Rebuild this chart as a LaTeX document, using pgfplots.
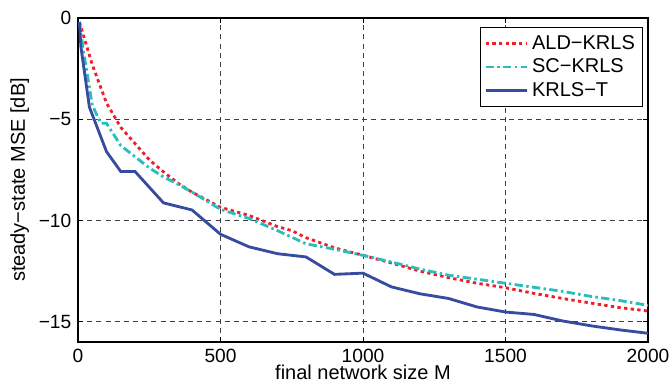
\documentclass[border=0pt]{standalone}
\usepackage{fontspec}
\setmainfont{Liberation Sans}
\usepackage{pgfplots}
\pgfplotsset{compat=1.18}
\definecolor{cRed}{RGB}{240,30,40}
\definecolor{cCyan}{RGB}{40,190,190}
\definecolor{cBlue}{RGB}{55,75,160}
\begin{document}
\fontsize{11.5}{13.5}\selectfont
\begin{tikzpicture}
\begin{axis}[
  scale only axis,
  width=342pt, height=194.4pt,
  xmin=0, xmax=2000, ymin=-16, ymax=0,
  xtick={0,500,1000,1500,2000},
  xticklabels={0,500,1000,1500,2000},
  ytick={-15,-10,-5,0},
  yticklabels={−15,−10,−5,0},
  tick align=inside,
  major tick length=3pt,
  tick style={black, line width=0.5pt},
  axis line style={black, line width=0.9pt},
  grid=major,
  major grid style={black!75, dashed, line width=0.4pt, dash pattern=on 3pt off 2.5pt},
  ticklabel style={font=\fontsize{11.5}{13.5}\selectfont},
  xticklabel style={yshift=0pt},
  label style={font=\fontsize{12}{14}\selectfont},
  xlabel={final network size M},
  ylabel={steady−state MSE [dB]},
  xlabel style={yshift=6pt},
  ylabel style={yshift=-2pt},
  legend style={at={(0.991,0.972)}, anchor=north east, draw=black, line width=0.6pt,
    font=\fontsize{12}{14}\selectfont, row sep=0pt, inner sep=2.5pt},
  legend cell align=left,
  legend image code/.code={\draw[#1] (0pt,0pt) -- (25pt,0pt);},
]
\addplot[cRed, line width=1.7pt, dash pattern=on 2pt off 2pt] coordinates {
(5,-0.2) (50,-2.3) (100,-4.2) (150,-5.4) (200,-6.2) (250,-7.0) (300,-7.6)
(350,-8.15) (400,-8.6) (500,-9.35) (600,-9.75) (700,-10.3) (750,-10.5)
(800,-10.85) (900,-11.35) (1000,-11.72) (1100,-12.1) (1200,-12.5) (1300,-12.82)
(1400,-13.1) (1500,-13.32) (1600,-13.6) (1700,-13.85) (1800,-14.08) (1900,-14.3) (2000,-14.47)
};
\addlegendentry{ALD−KRLS}
\addplot[cCyan, line width=1.7pt, dash pattern=on 5pt off 2pt on 1.5pt off 2pt] coordinates {
(5,-0.2) (20,-1.7) (50,-4.3) (80,-5.2) (100,-5.2) (150,-6.3) (200,-6.85) (250,-7.4)
(300,-7.85) (350,-8.2) (400,-8.6) (500,-9.45) (600,-9.9) (700,-10.5) (800,-11.15)
(900,-11.42) (1000,-11.72) (1100,-12.05) (1200,-12.4) (1300,-12.7) (1400,-12.9)
(1500,-13.1) (1600,-13.3) (1700,-13.5) (1800,-13.75) (1900,-13.95) (2000,-14.19)
};
\addlegendentry{SC−KRLS}
\addplot[cBlue, line width=1.7pt] coordinates {
(5,-0.2) (10,-1.4) (40,-4.4) (100,-6.6) (150,-7.58) (200,-7.58) (300,-9.13)
(400,-9.48) (500,-10.68) (600,-11.3) (700,-11.64) (800,-11.8) (900,-12.66)
(1000,-12.6) (1100,-13.28) (1200,-13.62) (1300,-13.85) (1400,-14.27) (1500,-14.52)
(1600,-14.64) (1700,-14.96) (1800,-15.2) (1900,-15.4) (2000,-15.57)
};
\addlegendentry{KRLS−T}
\coordinate (ll) at (rel axis cs:0,0);
\coordinate (ur) at (rel axis cs:1,1);
\end{axis}
\pgfresetboundingbox
\path ([shift={(-46.8pt,-29.4pt)}]ll) rectangle ([shift={(13.8pt,10.8pt)}]ur);
\end{tikzpicture}
\end{document}
